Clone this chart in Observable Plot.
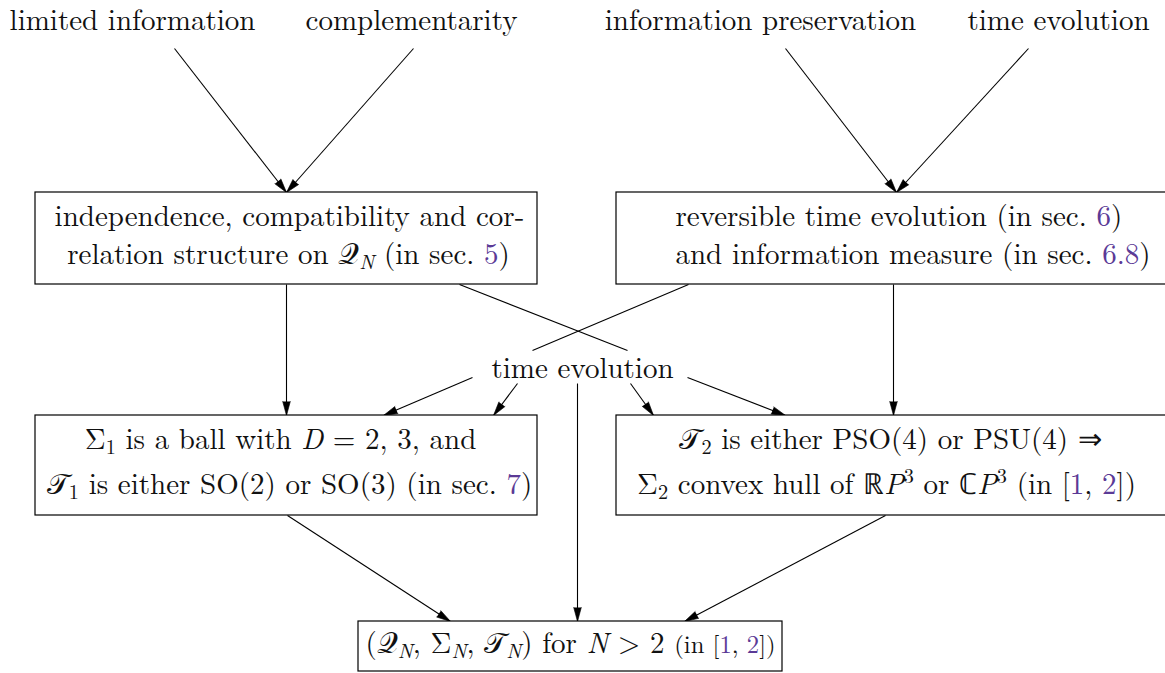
<!DOCTYPE html>
<html><head><meta charset="utf-8">
<script src="https://cdn.jsdelivr.net/npm/d3@7"></script>
<script src="https://cdn.jsdelivr.net/npm/@observablehq/plot@0.6"></script>
<style>
body{margin:0;background:#fff;}
svg{display:block}
</style>
</head><body><div id="chart"></div>
<script>
const W = 1165, H = 673;
const LINK = "#5b3a96";
const FONT = "Latin Modern Roman, Liberation Serif, serif";
const FS = 29;

// source concepts (top row)
const sourceLabels = ["limited information", "complementarity", "information preservation", "time evolution"];
const sourceX = [132, 411, 760, 1058];
const sourceY = [20, 20, 20, 20];

// central hub label
const hubLabels = ["time evolution"];
const hubX = [582];
const hubY = [368];

// boxes
const boxNames = ["correlation", "evolution", "ball", "hull", "final"];
const boxX1 = [35, 616, 35, 616, 358];
const boxX2 = [537, 1172, 537, 1172, 782];
const boxY1 = [192, 192, 415, 415, 621];
const boxY2 = [284, 284, 515, 515, 671];

// box text lines (mini markup: _{sub} ^{sup} *{italic} #{link colour} ~{small})
const lineText = [
  "independence, compatibility and cor-",
  "relation structure on 𝒬_{*{N}} (in sec. #{5})",
  "reversible time evolution (in sec. #{6})",
  "and information measure (in sec. #{6.8})",
  "Σ_{1} is a ball with *{D} = 2, 3, and",
  "𝒯_{1} is either SO(2) or SO(3) (in sec. #{7})",
  "𝒯_{2} is either PSO(4) or PSU(4) ⇒",
  "Σ_{2} convex hull of ℝ*{P}^{3} or ℂ*{P}^{3} (in [#{1}, #{2}])",
  "(𝒬_{*{N}}, Σ_{*{N}}, 𝒯_{*{N}}) for *{N} > 2 ~{(in [#{1}, #{2}])}"
];
const lineX = [289, 288, 675, 675, 280, 289, 890, 886, 570];
const lineY = [216, 254, 216, 254, 439, 484, 439, 484, 643];
const lineAlign = ["middle", "middle", "start", "start", "middle", "middle", "middle", "middle", "middle"];

// edges (from, to, arrowhead)
const edgeX1 = [174, 413, 785, 1028, 286, 893, 459, 688, 472, 517, 577, 630, 687, 287, 885];
const edgeY1 = [48, 48, 48, 48, 284, 284, 284, 284, 377, 383, 383, 383, 377, 515, 515];
const edgeX2 = [286, 286, 896, 896, 286, 893, 627, 532, 383, 493, 577, 653, 785, 450, 684];
const edgeY2 = [192, 192, 192, 192, 415, 415, 350, 350, 415, 415, 621, 415, 415, 621, 621];
const edgeHead = [1, 1, 1, 1, 1, 1, 0, 0, 1, 1, 1, 1, 1, 1, 1];

const sources = sourceLabels.map((t, i) => ({t, x: sourceX[i], y: sourceY[i]}));
const hubs = hubLabels.map((t, i) => ({t, x: hubX[i], y: hubY[i]}));
const boxes = boxNames.map((n, i) => ({n, x1: boxX1[i], x2: boxX2[i], y1: boxY1[i], y2: boxY2[i]}));
const lines = lineText.map((t, i) => ({t, x: lineX[i], y: lineY[i], a: lineAlign[i]}));
const edges = edgeX1.map((x1, i) => ({x1, y1: edgeY1[i], x2: edgeX2[i], y2: edgeY2[i], head: edgeHead[i],
  ang: Math.atan2(edgeX2[i] - x1, -(edgeY2[i] - edgeY1[i])) * 180 / Math.PI}));

const txt = {x: "x", y: "y", text: "t", fontSize: FS, fontFamily: FONT, fill: "#111"};

const svg = Plot.plot({
  width: W, height: H,
  marginTop: 0, marginRight: 0, marginBottom: 0, marginLeft: 0,
  x: {domain: [0, W], range: [0, W], axis: null},
  y: {domain: [0, H], range: [0, H], axis: null},
  style: {background: "white"},
  marks: [
    Plot.link(edges, {x1: "x1", y1: "y1", x2: "x2", y2: "y2", stroke: "black", strokeWidth: 1.1}),
    Plot.vector(edges.filter(d => d.head), {x: "x2", y: "y2", rotate: "ang", length: 14, r: 3.8,
      shape: "spike", anchor: "end", fill: "black", stroke: "black", strokeWidth: 0.6}),
    Plot.rect(boxes, {x1: "x1", x2: "x2", y1: "y1", y2: "y2", fill: "white", stroke: "black", strokeWidth: 1.2}),
    Plot.text(sources, txt),
    Plot.text(hubs, txt),
    Plot.text(lines.filter(d => d.a === "middle"), {...txt, textAnchor: "middle"}),
    Plot.text(lines.filter(d => d.a === "start"), {...txt, textAnchor: "start"})
  ]
});

function parseMarkup(str) {
  const runs = [];
  function rec(s, st) {
    let buf = "", i = 0;
    const flush = () => { if (buf) { runs.push({text: buf, ...st}); buf = ""; } };
    while (i < s.length) {
      const c = s[i];
      if ("_^*#~".includes(c) && s[i + 1] === "{") {
        flush();
        let depth = 0, j = i + 1;
        for (; j < s.length; j++) {
          if (s[j] === "{") depth++;
          else if (s[j] === "}") { depth--; if (depth === 0) break; }
        }
        const inner = s.slice(i + 2, j);
        const ns = {...st};
        if (c === "_") { ns.scale = st.scale * 0.7; ns.shift = st.shift + 0.18 * st.scale; }
        if (c === "^") { ns.scale = st.scale * 0.7; ns.shift = st.shift - 0.38 * st.scale; }
        if (c === "*") ns.italic = true;
        if (c === "#") ns.color = LINK;
        if (c === "~") ns.scale = st.scale * 0.85;
        rec(inner, ns);
        i = j + 1;
      } else { buf += c; i++; }
    }
    flush();
  }
  rec(str, {scale: 1, shift: 0, italic: false, color: null});
  return runs;
}

svg.querySelectorAll("text").forEach(t => {
  const s = t.textContent;
  if (!/[_^*#~]\{/.test(s)) return;
  const holder = t.closest("[font-size]");
  const base = holder ? parseFloat(holder.getAttribute("font-size")) : FS;
  const runs = parseMarkup(s);
  t.textContent = "";
  let prev = 0;
  for (const r of runs) {
    const ts = document.createElementNS("http://www.w3.org/2000/svg", "tspan");
    ts.textContent = r.text;
    ts.setAttribute("font-size", (base * r.scale).toFixed(2));
    const sh = r.shift * base;
    if (sh !== prev) ts.setAttribute("dy", (sh - prev).toFixed(2));
    prev = sh;
    if (r.italic) ts.setAttribute("font-style", "italic");
    if (r.color) ts.setAttribute("fill", r.color);
    t.appendChild(ts);
  }
});

document.getElementById("chart").appendChild(svg);
</script>
</body></html>
